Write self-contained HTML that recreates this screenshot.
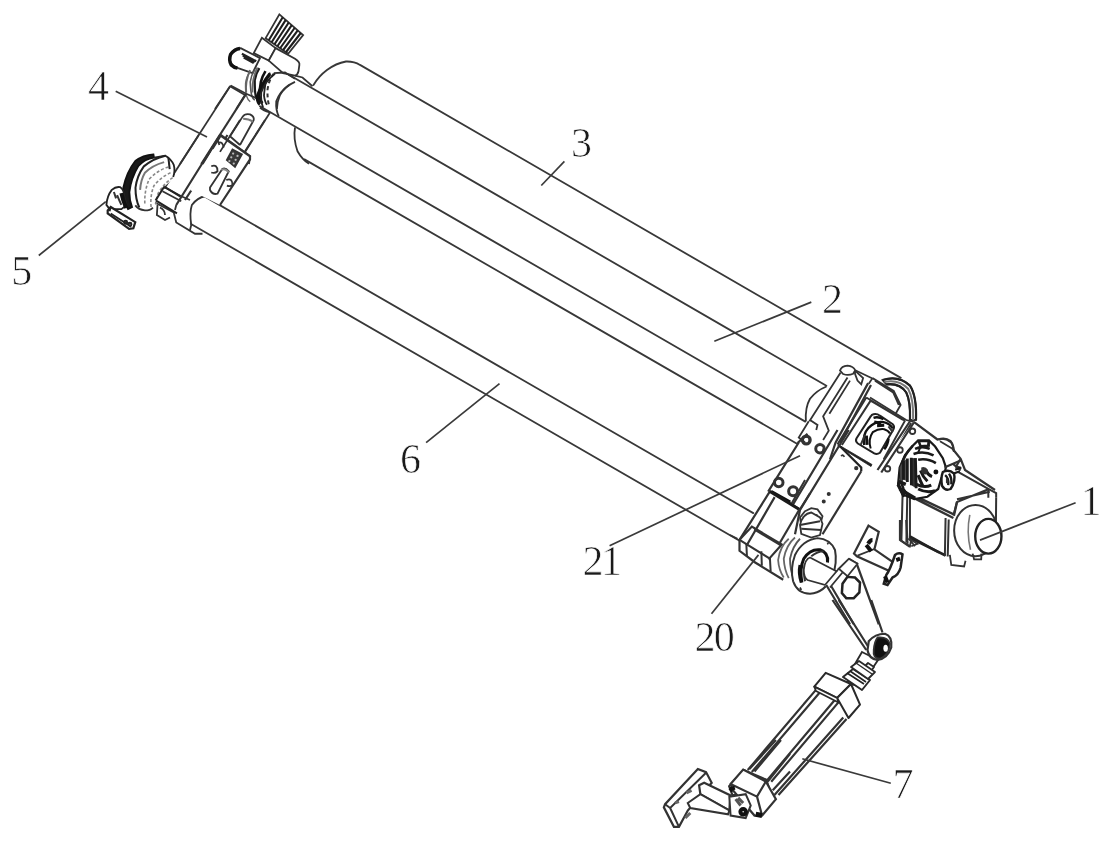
<!DOCTYPE html>
<html><head><meta charset="utf-8">
<style>
.z *{vector-effect:non-scaling-stroke}
html,body{margin:0;padding:0;background:#fff;width:1112px;height:842px;overflow:hidden}
svg{position:absolute;left:0;top:0;filter:blur(0.35px)}
text{-webkit-font-smoothing:antialiased;font-family:"Liberation Serif",serif;font-size:42px;fill:#1a1a1a;stroke:#fff;stroke-width:0.7px}
</style></head><body>
<svg width="1112" height="842" viewBox="0 0 1112 842">
<rect width="1112" height="842" fill="#fff"/>
<g fill="none" stroke="#383838" stroke-width="1.8" stroke-linecap="round" stroke-linejoin="round">
<!-- long lines -->
<path id="A" d="M313.5 85 C320 74 332 64 346 61.5 C352 61.3 356 62.4 360 64.9 L900.8 377.9"/>
<path id="B" d="M285 72.5 L826.4 385.7"/>
<path id="C" d="M260 106.3 L805.3 421.6"/>
<path id="D" d="M304.5 159.4 L797 443.7"/>
<path id="E" d="M205 196.6 L753.3 513.1"/>
<path id="F" d="M191 224 L740 541"/>
</g>

<!-- LEFT ASSEMBLY -->
<g class="z" transform="translate(215 5) scale(0.125)" fill="none" stroke="#333" stroke-width="1.8">
 <polygon points="515,75 705,240 585,390 405,265" fill="#fff"/>
 <path stroke-width="2.1" stroke="#1e1e1e" d="M542 98L430 282M566 119L453 298M590 140L476 314M614 161L499 330M638 182L521 346M662 203L544 362M686 224L567 378"/>
 <polygon points="375,262 485,345 430,445 310,385" fill="#fff"/>
 <path fill="#fff" d="M485 345 L640 430 Q680 455 675 480 L668 530 Q660 560 640 565 L545 545 L430 445 Z"/>
 <path fill="#fff" d="M205 345 L360 425 L300 545 L185 505 Q130 490 118 440 Q115 385 160 355 Z"/>
 <path stroke="#111" stroke-width="3.5" d="M200 348 Q150 355 125 395 Q108 440 130 480 Q150 500 180 505"/>
 <path stroke="#222" stroke-width="2.2" d="M215 390 L330 450 M222 405 L320 455 M230 420 L310 465"/>
 <path stroke="#666" stroke-width="1.5" d="M282 529 Q250 575 245 627 Q243 690 251 725 Q262 760 282 774"/>
 <path stroke="#555" stroke-width="1.6" d="M318 517 Q290 560 282 615 Q285 690 294 725 Q303 750 318 762"/>
 <path stroke="#1a1a1a" stroke-width="2.2" d="M355 505 Q325 550 318 603 Q318 690 325 725 Q335 760 355 774"/>
 <path stroke="#111" stroke-width="2.6" d="M404 529 Q378 570 367 615 Q356 680 355 725 Q360 765 380 786"/>
 <path stroke="#222" stroke-width="1.8" d="M441 541 Q415 580 404 627 Q394 690 392 725 Q398 775 416 798"/>
 <path stroke="#333" stroke-width="2" stroke-dasharray="4 3" d="M470 548 Q430 600 420 680 Q418 760 435 810"/>
 <path d="M470 545 L560 540 L640 590"/>
 <path d="M640 615 Q560 650 520 720 Q495 780 495 832"/>
 <path d="M640 565 L700 580 L780 650"/>
 <path d="M120 650 L240 720 M120 650 L0 832 M240 720 L170 832"/>
</g>
<g class="z" transform="translate(150 60) scale(0.125)" fill="none" stroke="#333" stroke-width="1.8">
 <path d="M645 205 L770 270 L860 310"/>
 <path d="M645 205 L240 832"/>
 <path stroke-width="2.2" d="M770 270 L410 832"/>
 <path d="M960 420 L700 832"/>
 <path d="M880 380 Q900 400 960 420"/>
 <path d="M740 455 L640 610 M830 480 L720 680 M740 455 Q760 425 800 435 Q835 450 830 480 M640 610 L720 680"/>
 <path stroke="#777" d="M745 470 Q790 470 825 495"/>
 <path stroke-width="2.2" d="M565 600 L800 770 L790 832 M565 600 L420 832"/>
 <path stroke="#666" d="M800 80 Q760 180 770 260"/>
 <path stroke="#666" d="M860 60 Q815 150 820 260"/>
 <path stroke="#111" stroke-width="3.5" d="M960 110 Q895 190 860 290 Q860 340 880 355"/>
 <path stroke="#222" d="M1000 110 Q920 170 890 260 Q885 330 905 380"/>
 <path d="M1112 200 Q1040 250 1010 330 Q1005 400 1030 450"/>
</g>
<g class="z" transform="translate(95 135) scale(0.125)" fill="none" stroke="#333" stroke-width="1.8">
 <path d="M480 430 L560 420 L690 490 L760 520"/>
 <path d="M830 0 L560 420"/>
 <path stroke-width="2.2" d="M1000 0 L650 560 M1060 0 L720 520"/>
 <path d="M480 540 L630 620 L650 700 L800 790 L860 790 M640 600 L650 560"/>
 <path d="M500 560 L495 640 L560 680 L600 660 M520 580 Q560 600 560 640"/>
 <path d="M880 490 Q820 500 775 560 Q755 620 770 720 L760 760"/>
 <path d="M540 450 L690 530"/>
</g>
<g class="z" transform="translate(100 145) scale(0.10688)" fill="none" stroke="#333" stroke-width="1.8">
 <path fill="#fff" stroke="none" d="M480 85 L610 100 Q690 150 700 250 L680 320 L600 390 L520 520 L490 590 L380 605 L270 600 Q210 540 210 420 Q240 280 330 150 Q400 90 480 85 Z"/>
 <path fill="#1a1a1a" stroke="#111" d="M500 88 Q400 95 330 150 Q250 250 218 400 Q212 520 262 600 L300 580 Q275 520 275 440 Q290 310 360 195 Q420 130 505 118 Z"/>
 <path stroke="#222" stroke-width="2" d="M612 100 Q500 125 410 200 Q345 290 332 400 Q332 510 368 585"/>
 <path stroke="#222" d="M505 118 L612 100 Q665 130 690 185 Q705 240 685 300"/>
 <path stroke="#888" stroke-width="1.6" stroke-dasharray="3 2" d="M640 205 Q540 235 460 320 Q412 430 420 560"/>
 <path stroke="#888" stroke-width="1.6" stroke-dasharray="3 2" d="M660 260 Q570 300 505 380 Q468 470 478 580"/>
 <path stroke="#888" stroke-width="1.6" stroke-dasharray="3 2" d="M680 305 Q600 360 545 450 Q518 520 525 570"/>
 <path stroke="#777" stroke-width="2" d="M600 160 Q490 190 420 260 Q380 330 375 420"/>
 <path stroke="#222" stroke-width="2" d="M640 120 L652 225"/>
 <path stroke="#333" d="M330 565 Q360 605 420 612 Q470 612 495 585"/>
 <path stroke="#222" stroke-width="2" d="M600 390 L750 480 M525 520 L720 640 M600 390 L520 520"/>
 <path fill="#fff" stroke="#222" d="M60 560 Q65 480 110 420 Q150 385 190 395 Q225 420 225 470 L250 560 L200 600 L90 600 Z"/>
 <path stroke="#111" stroke-width="4" d="M200 450 Q215 520 245 590"/>
 <path stroke="#333" stroke-width="2" d="M160 470 Q180 520 200 560 M130 440 L150 500"/>
 <path fill="#fff" stroke="#222" stroke-width="2.2" d="M72 612 L100 580 L330 722 L312 780 L272 785 L72 640 Z"/>
 <path stroke="#222" d="M100 642 L292 765 M100 582 L90 620"/>
 <circle cx="240" cy="722" r="14" stroke="#222" stroke-width="2"/><circle cx="280" cy="742" r="14" stroke="#222" stroke-width="2"/>
</g>
<g class="z" transform="translate(170 120) scale(0.125)" fill="none" stroke="#333" stroke-width="1.8">
 <path fill="#fff" d="M405 125 L640 290 L640 310 L400 680 L160 560 Z" stroke="none"/>
 <path stroke-width="2.2" d="M405 125 L640 290 L640 315 L400 680 M405 125 L340 230"/>
 <path d="M560 0 L400 255 M760 0 L600 250"/>
 <path fill="#3a3a3a" d="M455 320 L500 235 L575 275 L520 375 Z"/>
 <circle cx="505" cy="268" r="9" fill="#bbb" stroke="none"/><circle cx="540" cy="287" r="9" fill="#bbb" stroke="none"/>
 <circle cx="490" cy="298" r="9" fill="#bbb" stroke="none"/><circle cx="525" cy="318" r="9" fill="#bbb" stroke="none"/>
 <circle cx="475" cy="328" r="9" fill="#bbb" stroke="none"/><circle cx="510" cy="348" r="9" fill="#bbb" stroke="none"/>
 <path d="M320 540 L420 390 Q445 380 470 410 L380 590 Q340 600 320 560 Z"/>
 <path stroke="#888" stroke-width="2" d="M410 400 Q440 380 470 420"/>
 <path d="M330 370 Q380 350 380 410 Q360 430 330 420 M450 480 Q500 460 500 520 Q480 535 455 525"/>
 <path d="M390 180 Q420 170 430 220 M380 160 L395 200"/>
 <path d="M1000 60 Q985 150 1020 250 Q1060 320 1112 350"/>
</g>

<!-- RIGHT ASSEMBLY -->
<!-- R1 top frame -->
<g class="z" transform="translate(780 355) scale(0.125)" fill="none" stroke="#333" stroke-width="1.8">
 <path d="M372 252 Q290 285 240 350 Q200 420 207 530"/>
 <path fill="#fff" d="M820 200 Q950 160 1040 245 Q1095 330 1088 520 L1040 520 Q1045 370 1010 300 Q960 225 850 235 Z"/>
 <path stroke="#222" stroke-width="2.2" d="M820 200 Q950 160 1040 245 Q1095 330 1088 520 M850 235 Q960 220 1010 300 Q1045 370 1040 520"/>
 <path stroke="#777" stroke-width="2" d="M835 215 Q950 190 1025 270 Q1070 350 1065 520"/>
 <path fill="#fff" d="M480 125 L600 120 L740 185 L910 290 L965 400 L1000 525 L830 834 L390 834 L140 660 L232 540 Z" stroke="none"/>
 <path fill="#fff" d="M480 125 Q492 88 540 85 Q588 90 602 122 L585 150 Q545 168 505 152 Z"/>
 <path d="M485 140 L235 530 M540 180 L345 490 L390 605 L345 680 M560 205 L395 470"/>
 <path d="M600 125 L600 150 L620 205 L650 235 L665 185 L600 125"/>
 <path d="M602 122 L740 188"/>
 <path stroke-width="2.2" d="M705 225 L445 700 L400 834 M728 240 L480 700"/>
 <path d="M740 185 L910 288 L965 400 L925 470 M740 185 L710 230 M760 205 L905 300 L950 400"/>
 <path stroke-width="2" d="M690 340 L1000 525 M690 340 L460 715 M725 365 L985 520 M725 365 L495 720"/>
 <path stroke-width="2" d="M1000 525 L830 834 M1050 545 L880 834"/>
 <circle cx="1060" cy="600" r="22"/><circle cx="960" cy="740" r="20"/>
 <path d="M230 530 L150 660 L200 700 L320 740"/>
 <circle cx="210" cy="680" r="28" stroke-width="2.4"/><circle cx="320" cy="740" r="28" stroke-width="2.4"/>
 <path d="M240 520 L300 560 L290 600"/>
</g>
<g class="z" transform="translate(850 405) scale(0.07128)" fill="none" stroke="#222" stroke-width="2">
 <path fill="#fff" stroke-width="2" d="M330 130 Q380 120 420 150 L600 270 Q630 300 610 340 L420 670 Q380 700 340 680 L110 540 Q70 510 90 470 L290 160 Q305 135 330 130 Z"/>
 <path stroke="#111" stroke-width="2.4" d="M200 560 Q170 420 260 320 Q360 220 470 240 Q560 260 600 330"/>
 <path stroke="#111" stroke-width="2" d="M290 610 Q250 480 320 380 Q400 330 480 340 Q540 360 560 400"/>
 <path stroke="#111" stroke-width="3" d="M340 240 L440 255 M380 290 L480 285 M230 430 L240 560"/>
 <path stroke="#111" stroke-width="2.5" d="M330 180 Q400 160 470 200 M480 620 Q530 560 540 470"/>
 <path stroke="#333" stroke-width="2" d="M150 560 L210 420 M540 300 L600 380"/>
</g>
<path d="M838 444.5 L872 464.5 L871 466.5 L838 446 Z" fill="#222" stroke="#222" stroke-width="0.8"/>

<!-- R2 coupling -->
<g class="z" transform="translate(870 390) scale(0.125)" fill="none" stroke="#333" stroke-width="1.8">
 <path fill="#fff" d="M350 255 L720 550 L760 640 L1000 800 L600 832 L100 680 L60 640 Z" stroke="none"/>
 <path stroke-width="2.2" d="M350 255 L545 400 M660 470 L725 550 L760 640 L1000 800 M725 550 L690 610"/>
 <path d="M0 60 L290 240 L350 255"/>
 <path stroke-width="2.2" d="M320 250 L60 640 M350 262 L90 660"/>
 <path d="M545 395 Q600 380 650 420 Q670 450 665 480 M560 410 L660 470"/>
 <circle cx="340" cy="330" r="22"/><circle cx="240" cy="480" r="22"/><circle cx="140" cy="630" r="22"/>
</g>

<!-- R3 bracket + frame -->
<g class="z" transform="translate(730 430) scale(0.125)" fill="none" stroke="#333" stroke-width="1.8">
 <path fill="#fff" d="M550 100 L760 100 L560 640 L310 490 Z" stroke="none"/>
 <path stroke-width="2.2" d="M550 100 L310 485 L560 635 M540 105 L620 30"/>
 <path stroke="#111" stroke-width="4" d="M330 495 L480 580"/>
 <circle cx="390" cy="420" r="34" stroke-width="3"/><circle cx="505" cy="490" r="36" stroke-width="3"/>
 <circle cx="610" cy="80" r="32" stroke-width="3"/><circle cx="720" cy="150" r="34" stroke-width="3"/>
 <path stroke-width="2.2" d="M860 0 L490 620 L440 834 M950 0 L560 640 L520 834"/>
 <path stroke-width="2.2" d="M1050 330 L740 834"/>
 <path stroke="#222" stroke-width="2.2" d="M880 130 L1050 300 L1050 330"/>
 <circle cx="790" cy="512" r="9" fill="#222"/><circle cx="750" cy="572" r="9" fill="#222"/>
 <circle cx="1010" cy="305" r="10" fill="#333"/>
 <path d="M890 210 Q900 190 915 215"/>
 <path fill="#fff" d="M600 650 L650 625 L700 635 L740 690 L720 760 L650 790 L570 760 L560 700 Z"/>
 <path d="M580 700 L700 680 M575 740 L690 720"/>
</g>
<!-- R4 motor -->
<g class="z" transform="translate(890 455) scale(0.14251)" fill="none" stroke="#333" stroke-width="1.8">
 <path fill="#fff" stroke="none" d="M480 120 L700 235 L760 270 L750 620 L640 730 L530 780 L420 760 L380 700 L140 620 L70 600 L70 200 L180 270 Z"/>
 <path stroke-width="2" d="M480 120 L690 238 L745 268 L745 300 M690 238 L690 300"/>
 <path stroke-width="2" d="M690 240 L470 330 L445 425 M470 310 L700 258"/>
 <path stroke-width="2.4" d="M170 285 L450 418 L470 330 M180 308 L445 442"/>
 <path stroke-width="2" d="M140 250 L140 582 M90 210 L80 600 M122 240 L115 612"/>
 <path stroke="#222" stroke-width="2.6" d="M140 582 L390 705"/>
 <path stroke-width="2" d="M390 442 L385 708 M412 452 L405 712"/>
 <path d="M75 600 L140 640 L150 585 M130 585 L175 640"/>
 <path stroke-width="2" d="M745 300 L742 600 L700 650"/>
 <ellipse cx="600" cy="530" rx="150" ry="180" fill="#fff" stroke-width="2"/>
 <path stroke="#777" stroke-width="1.6" d="M560 420 Q535 540 565 665"/>
 <ellipse cx="690" cy="570" rx="92" ry="122" fill="#fff" stroke="#222" stroke-width="2.4"/>
 <path d="M420 700 L430 772 L520 782 L530 742 M580 692 L590 732 L640 732 L642 692"/>
</g>
<g class="z" transform="translate(895 435) scale(0.07716)" fill="none" stroke="#1a1a1a" stroke-width="2.4">
 <path fill="#fff" stroke-width="2.2" d="M300 70 L440 70 L520 150 L620 300 L660 420 L640 500 L600 560 L560 700 L420 800 L250 830 L100 770 L40 640 L60 420 L130 260 L230 140 Z"/>
 <path stroke-width="2.6" d="M230 140 Q120 250 80 400 Q50 560 110 700 Q160 790 260 820"/>
 <path fill="#555" stroke="none" d="M110 330 L160 310 L160 600 L110 580 Z"/>
 <path fill="#333" stroke="none" d="M212 298 L265 300 L275 690 L212 650 Z"/>
 <path fill="#444" stroke="none" d="M60 420 L110 330 L110 580 L70 640 Z"/>
 <path stroke-width="2.8" d="M110 330 L110 580 M160 305 L160 610 M210 295 L212 650 M265 300 L275 690"/>
 <path stroke-width="2.6" d="M260 180 Q360 135 450 180 M240 245 Q380 200 500 265 M300 320 Q420 295 530 365"/>
 <path stroke-width="2" d="M300 70 L330 150 L440 140 L440 70 M330 150 L300 230"/>
 <path fill="#fff" stroke-width="1.6" d="M315 85 L430 85 L425 135 L335 140 Z"/>
 <circle cx="530" cy="480" r="32" fill="#111" stroke="none"/>
 <path stroke-width="3" d="M330 460 Q360 540 420 600 M300 520 Q330 600 360 660 M400 460 Q430 520 480 540"/>
 <path fill="#333" stroke="none" d="M340 420 Q400 405 425 450 Q432 495 398 512 Q355 512 340 478 Z"/>
 <path stroke-width="3" d="M280 640 Q380 690 470 650 M300 700 Q420 760 520 720"/>
 <path fill="#fff" stroke-width="2.4" d="M620 480 Q700 440 765 500 Q790 600 720 700 Q650 730 610 660 Q590 560 620 480 Z"/>
 <path stroke-width="2.4" d="M650 520 Q700 560 690 650 M700 500 Q740 560 730 640"/>
 <path fill="#333" stroke="none" d="M660 560 Q690 560 695 610 Q680 640 660 620 Z"/>
 <path stroke-width="3.5" d="M40 640 L120 800 M60 700 L260 820 M40 600 L140 640"/>
 <path stroke="#333" stroke-width="2.2" d="M560 60 Q650 25 720 80 Q760 130 765 220"/>
 <path stroke="#333" stroke-width="2.2" d="M640 420 L850 330 M760 380 L850 460 M780 420 Q820 400 850 430"/>
 <path stroke-width="2.2" d="M780 450 L860 420 M760 500 L840 470"/>
</g>


<g class="z" transform="translate(730 480) scale(0.09501)" fill="none" stroke="#333" stroke-width="2">
 <path fill="#fff" stroke="none" d="M420 120 L730 310 L545 680 L415 960 L100 760 L100 630 Z"/>
 <path stroke-width="2.2" d="M420 120 L100 630 M470 180 L175 690"/>
 <path stroke="#1a1a1a" stroke-width="3" d="M420 120 L730 310"/>
 <path stroke-width="2.2" d="M730 310 L525 660"/>
 <path stroke-width="2.2" d="M100 630 L230 490 L545 680 L415 825 Z"/>
 <path d="M255 520 L540 690"/>
 <path stroke-width="2.2" d="M100 630 L100 745 L265 868 L560 1050 M415 825 L420 842"/>
 <path d="M172 672 L178 800 M330 750 L335 900 M420 820 L428 960"/>
 <path d="M790 0 L650 245 M842 140 L730 320"/>
</g>
<!-- R6 foot + flange -->
<g class="z" transform="translate(730 510) scale(0.125)" fill="none" stroke="#333" stroke-width="1.8">
 <path stroke="#666" d="M470 230 Q400 290 385 400 Q390 480 430 540"/>
 <path stroke="#666" d="M520 220 Q450 280 430 390 Q435 480 470 545"/>
 <path stroke="#555" d="M560 230 Q500 290 480 390 Q480 480 510 550"/>
 <path fill="#fff" stroke-width="2" d="M700 225 Q800 230 840 320 Q860 420 820 530 Q760 660 640 670 Q540 670 505 570 Q480 470 520 360 Q580 240 700 225 Z"/>
 <path stroke="#111" stroke-width="3" d="M780 420 Q790 340 720 318 Q640 310 590 390 Q555 470 575 580"/>
 <path stroke="#333" stroke-width="2" d="M750 330 Q700 330 650 370 M600 430 Q585 500 600 570"/>
 <path fill="#fff" d="M640 380 L870 500 L860 590 L800 610 L620 560 Q590 540 590 480 Q600 390 640 380 Z"/>
 <path d="M870 500 L800 610"/>
 <path d="M780 260 L785 275 M560 620 L570 640"/>
 <path stroke="#111" stroke-width="3" d="M560 440 Q545 500 570 580"/>
 <path fill="#fff" d="M560 120 Q580 30 650 20 L720 60 L740 110 L720 200 L650 220 L570 190 Z"/>
 <path d="M570 150 L730 160 M560 120 L720 90"/>
 <path d="M0 200 L60 230"/>
</g>
<!-- R7 lever top, L bracket -->
<g class="z" transform="translate(800 520) scale(0.125)" fill="none" stroke="#333" stroke-width="1.8">
 <path fill="#fff" d="M390 310 L450 340 L630 834 L400 834 L200 520 Z" stroke="none"/>
 <path stroke-width="2.2" d="M450 340 L630 834 M210 520 L400 834 M250 530 L430 834 M390 310 L450 345"/>
 <path fill="#fff" d="M310 390 L390 310 L460 350 L380 450 Z"/>
 <path d="M200 520 L310 390 M240 540 L340 420"/>
 <path fill="#fff" stroke="#222" stroke-width="2.5" d="M380 455 L440 460 L480 500 L475 580 L430 625 L370 625 L335 585 L340 510 Z"/>
 <path fill="#fff" stroke-width="2.2" d="M548 45 L630 95 L595 235 L740 335 L742 420 L455 290 L432 268 Z"/>
 <path d="M600 230 L460 285"/>
 <path stroke="#111" stroke-width="4" d="M530 200 L570 250 M545 190 Q560 160 580 160"/>
 <path fill="#fff" stroke="#222" stroke-width="2.5" d="M760 280 Q790 255 820 275 L805 380 Q790 440 740 460 L700 520 L670 510 L690 440 Q720 400 760 280 Z"/>
 <path stroke="#111" stroke-width="4" d="M680 450 L700 500 M780 300 L790 330"/>
 <path stroke-width="2.2" d="M800 0 L800 160 L880 215 M850 0 L860 190"/>
 <path stroke="#222" stroke-width="2.2" d="M880 130 L1112 260"/>
 <path d="M870 150 L940 190 L890 210"/>
</g>
<path d="M862 652 L878 660 L870 672 L855 664 Z" fill="#fff" stroke="#2a2a2a" stroke-width="1.8"/>
<!-- R8 lever bottom, rod end -->
<g class="z" transform="translate(780 600) scale(0.125)" fill="none" stroke="#333" stroke-width="1.8">
 <path stroke-width="2.2" d="M420 0 L690 400 M470 0 L710 380 M730 0 L820 260"/>
 <path fill="#fff" stroke-width="2.2" d="M710 330 Q760 270 840 270 Q900 290 890 380 Q860 470 780 480 Q710 470 700 400 Z"/>
 <path fill="#111" d="M780 300 Q860 290 880 350 Q870 440 800 470 Q740 470 750 400 Q755 330 780 300 Z"/>
 <ellipse cx="845" cy="385" rx="18" ry="28" fill="#fff" stroke="none"/>
 <path stroke-width="2.2" d="M300 720 L190 834 M340 740 L230 834 M480 770 L400 834 M530 790 L470 834"/>
</g>
<!-- A1 actuator body -->
<g class="z" transform="translate(700 660) scale(0.16187)" fill="none" stroke="#333" stroke-width="1.8">
 <path fill="#fff" d="M720 180 L880 260 L920 350 L460 834 L180 834 L270 680 Z" stroke="none"/>
 <path stroke-width="2.2" d="M720 180 L295 680 M745 195 L320 692 M830 250 L415 742 M855 262 L440 752 M885 355 L460 834 M905 365 L485 834"/>
 <path fill="#fff" stroke-width="2.2" d="M180 780 L270 680 L410 740 L440 834 L200 834 Z"/>
 <path stroke-width="2.2" d="M270 680 L300 700 L410 742"/>
 <path stroke="#111" stroke-width="4" d="M185 790 L205 810"/>
</g>
<g fill="#fff" stroke="#2a2a2a" stroke-width="1.8" stroke-linejoin="round">
 <path d="M846 683 L852 679 L868 663 L874 667 L860 686 Z"/>
 <path d="M843 677 L853 669 L870 680 L862 690 Z" stroke-width="2"/>
 <path d="M847 673 L864 684 M850 671 L866 682" stroke="#222" stroke-width="1.6" fill="none"/>
 <path d="M851 667 L859 661 L875 672 L868 679 Z" stroke-width="1.8"/>
 <path d="M856 663 L872 674" stroke-width="1.4" fill="none"/>
 <path d="M814.3 686.6 L825.7 672.8 L851 684 L837.1 698 Z" stroke-width="2"/>
 <path d="M837.1 698 L851 684 L860 704.6 L848.5 718 Z" stroke-width="2"/>
 <path d="M814.3 686.6 L837.1 698 L838.5 702.5 L816 691 Z" stroke-width="1.8"/>
</g>

<!-- A2 bottom bracket -->
<g class="z" transform="translate(650 740) scale(0.1259)" fill="none" stroke="#333" stroke-width="1.8">
 <path fill="#fff" stroke-width="2.2" d="M380 230 L445 255 L490 340 L300 560 L230 690 L190 690 L110 535 L120 510 Z"/>
 <path stroke-width="2" d="M120 510 L160 540 L445 260 M160 540 L230 690"/>
 <path stroke="#666" stroke-width="3" d="M290 420 L330 400 M280 620 L320 580 M200 500 L230 490"/>
 <path fill="#fff" stroke-width="2.2" d="M390 360 L430 340 L640 440 L630 560 L400 430 Z"/>
 <path fill="#fff" stroke-width="2" d="M300 500 L400 430 L630 560 L620 590 L320 540 Z"/>
 <path fill="#fff" stroke-width="2.2" d="M640 350 L740 235 L920 330 L1000 470 L890 600 L830 600 L660 400 Z"/>
 <path stroke-width="2.2" d="M640 350 L850 450 L920 330 M850 450 L890 600"/>
 <path stroke-width="2.2" d="M790 230 L1000 0 M830 250 L1040 0 M935 330 L1112 110 M975 400 L1112 250"/>
 <path fill="#fff" stroke-width="2" d="M630 450 L760 430 L800 520 L760 620 L640 600 Z"/>
 <path stroke="#111" stroke-width="5" d="M650 370 L660 400 M840 590 L890 600"/>
 <circle cx="740" cy="570" r="22" stroke="#111" stroke-width="4"/>
 <path stroke="#555" stroke-width="3" d="M680 470 L720 520 M700 460 L740 500"/>
</g>
<!-- leaders -->
<g fill="none" stroke="#3a3a3a" stroke-width="1.7">
<path d="M115.7 91.2 L207 137"/>
<path d="M38.8 255.5 L105.8 201.6"/>
<path d="M426.1 442.6 L499.5 383.6"/>
<path d="M541.3 185.5 L564.4 161.3"/>
<path d="M714.3 341.2 L811.3 302.1"/>
<path d="M609.6 545.8 L800 455.7"/>
<path d="M711.5 613.7 L758.5 554.9"/>
<path d="M980 540.1 L1075.6 502.7"/>
<path d="M802.3 758.8 L890.8 783.3"/>
</g>
<g style="will-change:transform" transform="translate(0 0)">
<text x="88" y="100">4</text>
<text x="11.3" y="284.5">5</text>
<text x="400" y="473">6</text>
<text x="571" y="157">3</text>
<text x="822" y="313">2</text>
<text x="582.5" y="574.5" letter-spacing="-2.5">21</text>
<text x="694.5" y="651" letter-spacing="-1.8">20</text>
<text x="1080.5" y="515">1</text>
<text x="892.5" y="798">7</text>
</g>
</svg>
</body></html>
